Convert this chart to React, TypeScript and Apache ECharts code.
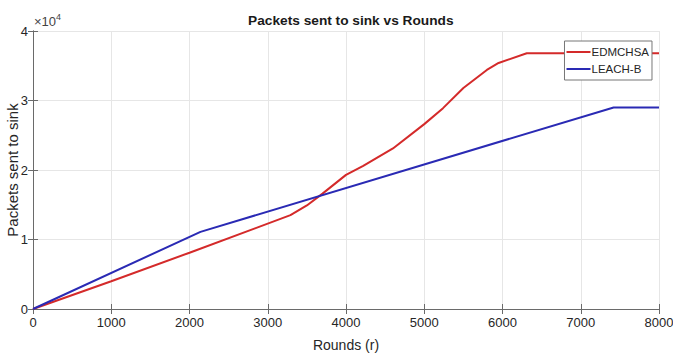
import React, { useEffect, useRef } from "react";
import * as echarts from "echarts";

const xTicks = [0, 1000, 2000, 3000, 4000, 5000, 6000, 7000, 8000];
const yTickLabels = ["0", "1", "2", "3", "4"];

const edmRounds = [0, 1000, 2000, 3290, 3500, 3700, 4000, 4220, 4600, 5000, 5240, 5500, 5800, 5950, 6310, 8000];
const edmPackets = [0, 4000, 8100, 13500, 14900, 16600, 19300, 20600, 23100, 26600, 28900, 31800, 34400, 35400, 36800, 36800];

const leachRounds = [0, 2140, 7420, 8000];
const leachPackets = [0, 11100, 29000, 29000];

const seriesNames = ["EDMCHSA", "LEACH-B"];
const seriesColors = ["#d42a2a", "#2a2ab4"];

const FONT = "Liberation Sans, Arial, sans-serif";
const TXT = "#262626";
const AX = "#6a6a6a";

export default function App() {
  const ref = useRef<HTMLDivElement>(null);
  useEffect(() => {
    if (!ref.current) return;
    const chart = echarts.init(ref.current, undefined, { renderer: "svg" });
    const grid = { left: 33, right: 14, top: 31, bottom: 49, containLabel: false, outerBoundsMode: "none" };
    const baseAxisLine = { show: true, lineStyle: { color: AX, width: 1 } };
    chart.setOption({
      animation: false,
      backgroundColor: "#ffffff",
      textStyle: { fontFamily: FONT },
      title: {
        text: "Packets sent to sink vs Rounds",
        left: 345.8,
        textAlign: "center",
        top: 8,
        textStyle: { fontFamily: FONT, fontSize: 13.7, fontWeight: "bold", color: "#1a1a1a" },
      },
      grid,
      legend: {
        orient: "vertical",
        right: 21,
        top: 41,
        data: seriesNames,
        icon: "rect",
        itemWidth: 24,
        itemHeight: 2,
        itemGap: 5,
        padding: [5, 3, 5, 2],
        backgroundColor: "#ffffff",
        borderColor: "#777",
        borderWidth: 1,
        textStyle: { fontFamily: FONT, fontSize: 11.5, color: TXT, padding: [0, 0, 0, -4] },
      },
      graphic: [
        {
          type: "text",
          left: 34,
          top: 12,
          style: {
            text: "{a|×10}{b|4}",
            rich: {
              a: { fontFamily: FONT, fontSize: 13, fill: "#444", verticalAlign: "bottom" },
              b: { fontFamily: FONT, fontSize: 9, fill: "#444", verticalAlign: "top", padding: [0, 0, 7, 0] },
            },
          },
        },
      ],
      xAxis: [
        {
          type: "value",
          min: 0,
          max: 8000,
          interval: 1000,
          name: "Rounds (r)",
          nameLocation: "middle",
          nameGap: 29,
          nameMoveOverlap: false,
          nameTextStyle: { fontFamily: FONT, fontSize: 14, color: TXT },
          axisLine: baseAxisLine,
          axisTick: { show: true, inside: true, length: 5, lineStyle: { color: AX } },
          axisLabel: {
            fontFamily: FONT,
            fontSize: 13,
            color: TXT,
            margin: 7,
            formatter: (v: number) => (xTicks.includes(v) ? String(v) : ""),
          },
          splitLine: { show: true, lineStyle: { color: "#e6e6e6", width: 1 } },
        },
        {
          type: "value",
          position: "top",
          min: 0,
          max: 8000,
          interval: 1000,
          axisLine: baseAxisLine,
          axisTick: { show: true, inside: true, length: 5, lineStyle: { color: AX } },
          axisLabel: { show: false },
          splitLine: { show: false },
        },
      ],
      yAxis: [
        {
          type: "value",
          min: 0,
          max: 40000,
          interval: 10000,
          name: "Packets sent to sink",
          nameLocation: "middle",
          nameGap: 13,
          nameMoveOverlap: false,
          nameTextStyle: { fontFamily: FONT, fontSize: 15, color: TXT },
          axisLine: baseAxisLine,
          axisTick: { show: true, inside: true, length: 5, lineStyle: { color: AX } },
          axisLabel: {
            fontFamily: FONT,
            fontSize: 13,
            color: TXT,
            margin: 5,
            formatter: (v: number) => yTickLabels[Math.round(v / 10000)] ?? "",
          },
          splitLine: { show: true, lineStyle: { color: "#e6e6e6", width: 1 } },
        },
        {
          type: "value",
          position: "right",
          min: 0,
          max: 40000,
          interval: 10000,
          axisLine: baseAxisLine,
          axisTick: { show: true, inside: true, length: 5, lineStyle: { color: AX } },
          axisLabel: { show: false },
          splitLine: { show: false },
        },
      ],
      series: [
        {
          name: seriesNames[0],
          type: "line",
          xAxisIndex: 0,
          yAxisIndex: 0,
          data: edmRounds.map((r, i) => [r, edmPackets[i]]),
          showSymbol: false,
          symbol: "none",
          lineStyle: { color: seriesColors[0], width: 2 },
          itemStyle: { color: seriesColors[0] },
        },
        {
          name: seriesNames[1],
          type: "line",
          xAxisIndex: 0,
          yAxisIndex: 0,
          data: leachRounds.map((r, i) => [r, leachPackets[i]]),
          showSymbol: false,
          symbol: "none",
          lineStyle: { color: seriesColors[1], width: 2 },
          itemStyle: { color: seriesColors[1] },
        },
      ],
    });
    return () => chart.dispose();
  }, []);
  return <div ref={ref} style={{ width: 673, height: 358, position: "absolute", left: 0, top: 0 }} />;
}
